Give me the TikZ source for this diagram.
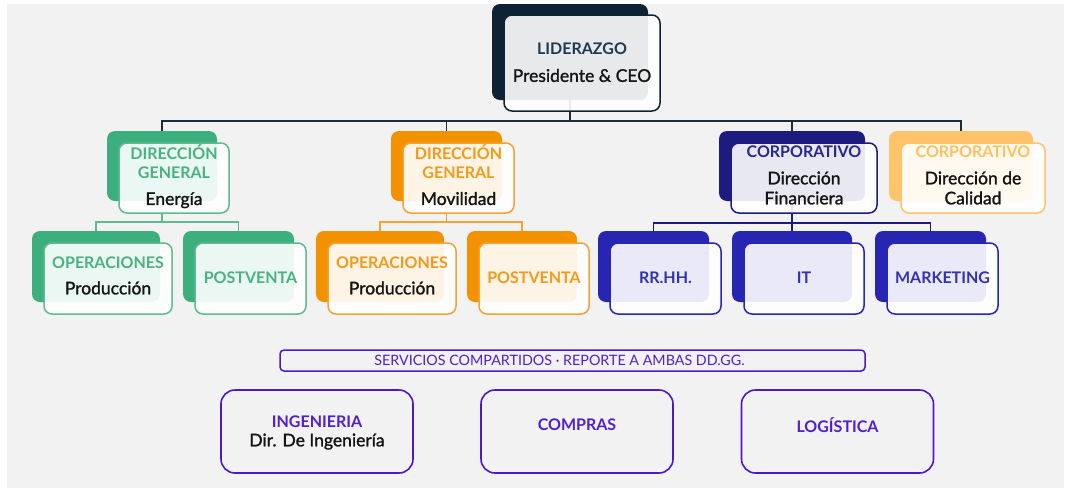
\documentclass[tikz,border=0pt]{standalone}
\usepackage{fontspec}
\setmainfont{Lato}
\newfontfamily\medfont{Lato}[FakeBold=1.4]
\usetikzlibrary{positioning}

\definecolor{bgC}{HTML}{F2F2F2}
\definecolor{leadC}{HTML}{0F2233}
\definecolor{leadT}{HTML}{1E3A52}
\definecolor{lineC}{HTML}{1D2C3B}
\definecolor{greenC}{HTML}{3DAE7D}
\definecolor{greenL}{HTML}{5DBB8E}
\definecolor{greenT}{HTML}{48B281}
\definecolor{orangeC}{HTML}{F39200}
\definecolor{orangeL}{HTML}{F5A232}
\definecolor{orangeT}{HTML}{F39A1A}
\definecolor{navyC}{HTML}{1E1B80}
\definecolor{navyT}{HTML}{27278E}
\definecolor{blueC}{HTML}{2626B3}
\definecolor{blueT}{HTML}{3232B0}
\definecolor{sandC}{HTML}{FFC46B}
\definecolor{sandT}{HTML}{FFC05E}
\definecolor{purpC}{HTML}{4B18D0}
\definecolor{purpT}{HTML}{5020CC}
\definecolor{inkC}{HTML}{141414}

\newcommand\hdr{\fontsize{16}{19}\selectfont\bfseries}
\newcommand\nm{\medfont\fontsize{17.5}{20}\selectfont}
\newcommand\hd[2]{{\color{#1}\rmfamily\hdr #2}}

\tikzset{
  cardback/.style={fill=#1, rounded corners=8pt, minimum height=70, inner sep=0pt, outer sep=0pt},
  cardfront/.style={draw=#1, fill=white, fill opacity=.9, text opacity=1, line width=1.5pt, rounded corners=8pt, minimum height=70, inner sep=0pt, outer sep=0pt, align=center, font=\nm, text=inkC, text depth=6pt},
  wire/.style={draw=#1, line width=1.8pt},
  svcbox/.style={draw=purpC, line width=1.6pt, rounded corners=14pt, minimum width=192, minimum height=83, inner sep=0pt, align=center, font=\nm, text=inkC},
}

\begin{document}
\begin{tikzpicture}[x=1pt,y=-1pt]
\useasboundingbox (0,0) rectangle (1071,491);
\fill[bgC] (7,4) rectangle (1064,488);

% back cards
\node[cardback=leadC, minimum width=156, minimum height=96] (ceoB) at (570,52) {};
\node[cardback=greenC, minimum width=110] (eneB) at (162,166) {};
\node[cardback=orangeC, minimum width=111] (movB) at (446.5,166) {};
\node[cardback=navyC, minimum width=146] (finB) at (792,166) {};
\node[cardback=sandC, minimum width=144] (calB) at (961,166) {};
\node[cardback=greenC, minimum width=128, minimum height=71] (gopB) at (96,266.5) {};
\node[cardback=greenC, minimum width=111, minimum height=71] (gpvB) at (238.5,266.5) {};
\node[cardback=orangeC, minimum width=128, minimum height=71] (mopB) at (380,266.5) {};
\node[cardback=orangeC, minimum width=110, minimum height=71] (mpvB) at (522,266.5) {};
\node[cardback=blueC, minimum width=111, minimum height=71] (rrhhB) at (653.5,266.5) {};
\node[cardback=blueC, minimum width=120, minimum height=71] (itB) at (792,266.5) {};
\node[cardback=blueC, minimum width=111, minimum height=71] (mktB) at (930.5,266.5) {};

% connectors
\coordinate[below=21pt of ceoB.south] (top);
\draw[wire=lineC] (ceoB.south) -- (top);
\draw[wire=lineC] (eneB.north) |- (top) -| (calB.north);
\draw[wire=lineC] (movB.north) -- (movB.north |- top);
\draw[wire=lineC] (finB.north) -- (finB.north |- top);

\coordinate[below=21pt of eneB.south] (eneS);
\draw[wire=greenL] (eneB.south) -- (eneS);
\draw[wire=greenL] (gopB.north) |- (eneS) -| (gpvB.north);

\coordinate[below=21pt of movB.south] (movS);
\draw[wire=orangeL] (movB.south) -- (movS);
\draw[wire=orangeL] (mopB.north) |- (movS) -| (mpvB.north);

\coordinate[below=22pt of finB.south] (finS);
\draw[wire=navyC] (finB.south) -- (itB.north);
\draw[wire=navyC] (rrhhB.north) |- (finS) -| (mktB.north);

% front cards
\node[cardfront=leadC, minimum width=156, minimum height=96, text depth=1pt] (ceo) at ([shift={(12,11)}]ceoB.center) {\hd{leadT}{LIDERAZGO}\\[7pt]Presidente \& CEO};
\node[cardfront=greenL, minimum width=110] (ene) at ([shift={(12,12)}]eneB.center) {\hd{greenT}{DIRECCIÓN}\\[-1pt]\hd{greenT}{GENERAL}\\[6pt]Energía};
\node[cardfront=orangeL, minimum width=111] (mov) at ([shift={(12,12)}]movB.center) {\hd{orangeT}{DIRECCIÓN}\\[-1pt]\hd{orangeT}{GENERAL}\\[6pt]Movilidad};
\node[cardfront=navyC, minimum width=146] (fin) at ([shift={(12,12)}]finB.center) {\hd{navyT}{CORPORATIVO}\\[7pt]Dirección\\Financiera};
\node[cardfront=sandC, minimum width=144] (cal) at ([shift={(12,12)}]calB.center) {\hd{sandT}{CORPORATIVO}\\[7pt]Dirección de\\Calidad};
\node[cardfront=greenL, minimum width=128, minimum height=71] (gop) at ([shift={(12,12)}]gopB.center) {\hd{greenT}{OPERACIONES}\\[6pt]Producción};
\node[cardfront=greenL, minimum width=111, minimum height=71, text depth=2pt] (gpv) at ([shift={(12,12)}]gpvB.center) {\hd{greenT}{POSTVENTA}};
\node[cardfront=orangeL, minimum width=128, minimum height=71] (mop) at ([shift={(12,12)}]mopB.center) {\hd{orangeT}{OPERACIONES}\\[6pt]Producción};
\node[cardfront=orangeL, minimum width=110, minimum height=71, text depth=2pt] (mpv) at ([shift={(12,12)}]mpvB.center) {\hd{orangeT}{POSTVENTA}};
\node[cardfront=blueC, minimum width=111, minimum height=71, text depth=2pt] (rrhh) at ([shift={(12,12)}]rrhhB.center) {\hd{blueT}{RR.HH.}};
\node[cardfront=blueC, minimum width=120, minimum height=71, text depth=2pt] (it) at ([shift={(12,12)}]itB.center) {\hd{blueT}{IT}};
\node[cardfront=blueC, minimum width=111, minimum height=71, text depth=2pt] (mkt) at ([shift={(12,12)}]mktB.center) {\hd{blueT}{MARKETING}};

% shared services
\node[draw=purpC, line width=1.5pt, rounded corners=4pt, minimum width=585, minimum height=21, inner sep=0pt, font=\fontsize{14.3}{16}\selectfont, text=purpT] (bar) at (572.5,360.5) {\hspace*{-26pt}SERVICIOS COMPARTIDOS · REPORTE A AMBAS DD.GG.};
\node[svcbox, text depth=1pt] (ing) at (317,431.5) {\hd{purpT}{INGENIERIA}\\[-1pt]Dir. De Ingeniería};
\node[svcbox] (com) at (577,431.5) {\hd{purpT}{COMPRAS}\\[-7pt]\mbox{}};
\node[svcbox] (log) at (837.5,431.5) {\hd{purpT}{LOGÍSTICA}\\[-7pt]\mbox{}};
\end{tikzpicture}
\end{document}
